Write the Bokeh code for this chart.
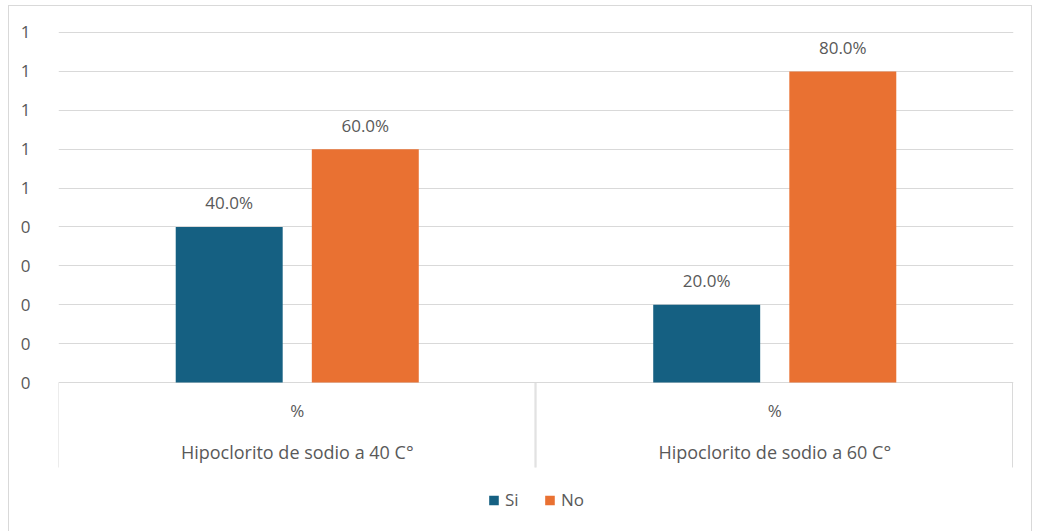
from bokeh.plotting import figure
from bokeh.models import (FactorRange, Range1d, LinearAxis, FixedTicker,
                          ColumnDataSource, Legend, LegendItem)
from bokeh.transform import dodge
from bokeh.core.properties import value
from bokeh.embed import file_html
from bokeh.resources import INLINE

# --- data -------------------------------------------------------------
groups = ["Hipoclorito de sodio a 40 C°", "Hipoclorito de sodio a 60 C°"]
unit = "%"
series = ["Si", "No"]
si_values = [0.40, 0.20]
no_values = [0.60, 0.80]
y_ticks = [0.0, 0.1, 0.2, 0.3, 0.4, 0.5, 0.6, 0.7, 0.8, 0.9]
y_tick_labels = ["0", "0", "0", "0", "0", "1", "1", "1", "1", "1"]

# --- style ------------------------------------------------------------
FONT = "Open Sans"
TEXT = "#595959"
GRID = "#d9d9d9"
COLORS = {"Si": "#156082", "No": "#E97132"}
BAR_W = 0.224
OFFSET = 0.1425
BOX_DEPTH = 0.2185          # depth of the category box under the zero line

x_range = FactorRange(*groups, range_padding=0, factor_padding=0)
y_range = Range1d(-0.3856, 0.9051)

p = figure(width=1024, height=526, x_range=x_range, y_range=y_range,
           output_backend="svg", toolbar_location=None,
           x_axis_location=None, y_axis_location=None,
           min_border_left=49, min_border_right=20,
           min_border_top=24, min_border_bottom=0,
           margin=(5, 0, 0, 8))
# thin chart-area border around the whole drawing
p.styles = {"border-left": f"1px solid {GRID}", "border-top": f"1px solid {GRID}",
            "border-right": f"1px solid {GRID}"}
p.outline_line_color = None
p.background_fill_color = "white"
p.border_fill_color = "white"

# value axis: labels only, grid at the same ticks
ticker = FixedTicker(ticks=y_ticks)
yaxis = LinearAxis(ticker=ticker)
yaxis.major_label_overrides = {t: lab for t, lab in zip(y_ticks, y_tick_labels)}
yaxis.axis_line_color = None
yaxis.major_tick_line_color = None
yaxis.minor_tick_line_color = None
yaxis.major_label_standoff = 22
yaxis.major_label_text_font = FONT
yaxis.major_label_text_font_size = "17px"
yaxis.major_label_text_color = TEXT
p.add_layout(yaxis, "left")
p.xgrid.visible = False
p.ygrid.ticker = ticker
p.ygrid.grid_line_color = GRID
p.ygrid.grid_line_width = 1

src = ColumnDataSource(dict(
    x=groups, si=si_values, no=no_values,
    si_lab=[f"{v * 100:.1f}%" for v in si_values],
    no_lab=[f"{v * 100:.1f}%" for v in no_values],
    unit=[unit] * len(groups),
    base=[0] * len(groups), floor=[-BOX_DEPTH] * len(groups),
))

# bars
r_si = p.vbar(x=dodge("x", -OFFSET, range=x_range), top="si", bottom=0, width=BAR_W,
              source=src, fill_color=COLORS["Si"], line_color=None)
r_no = p.vbar(x=dodge("x", OFFSET, range=x_range), top="no", bottom=0, width=BAR_W,
              source=src, fill_color=COLORS["No"], line_color=None)

# value labels above the bars
for col, lab, off in (("si", "si_lab", -OFFSET), ("no", "no_lab", OFFSET)):
    p.text(x=dodge("x", off, range=x_range), y=col, text=lab, source=src,
           text_align="center", text_baseline="middle", y_offset=-24,
           text_font=value(FONT), text_font_size="17px", text_color=TEXT)

# category box: lines hanging below the zero line
p.segment(x0=dodge("x", -0.5, range=x_range), x1=dodge("x", -0.5, range=x_range),
          y0="base", y1="floor", source=src, line_color=GRID, line_width=1)
p.segment(x0=dodge("x", 0.498, range=x_range), x1=dodge("x", 0.498, range=x_range),
          y0="base", y1="floor", source=src, line_color=GRID, line_width=1)

# two-level category labels under the zero line
p.text(x="x", y="base", text="unit", source=src, text_align="center",
       text_baseline="middle", y_offset=28,
       text_font=value(FONT), text_font_size="17px", text_color=TEXT)
p.text(x="x", y="base", text="x", source=src, text_align="center",
       text_baseline="middle", y_offset=69,
       text_font=value(FONT), text_font_size="18px", text_color=TEXT)

legend = Legend(items=[LegendItem(label="Si", renderers=[r_si]),
                       LegendItem(label="No", renderers=[r_no])],
                orientation="horizontal", location="bottom_center",
                glyph_width=12, glyph_height=12, label_standoff=6, spacing=18,
                padding=0, margin=21, border_line_color=None,
                background_fill_alpha=0,
                label_text_font=FONT, label_text_font_size="17px",
                label_text_color=TEXT)
p.add_layout(legend)

open("out.html", "w").write(file_html(p, INLINE))
